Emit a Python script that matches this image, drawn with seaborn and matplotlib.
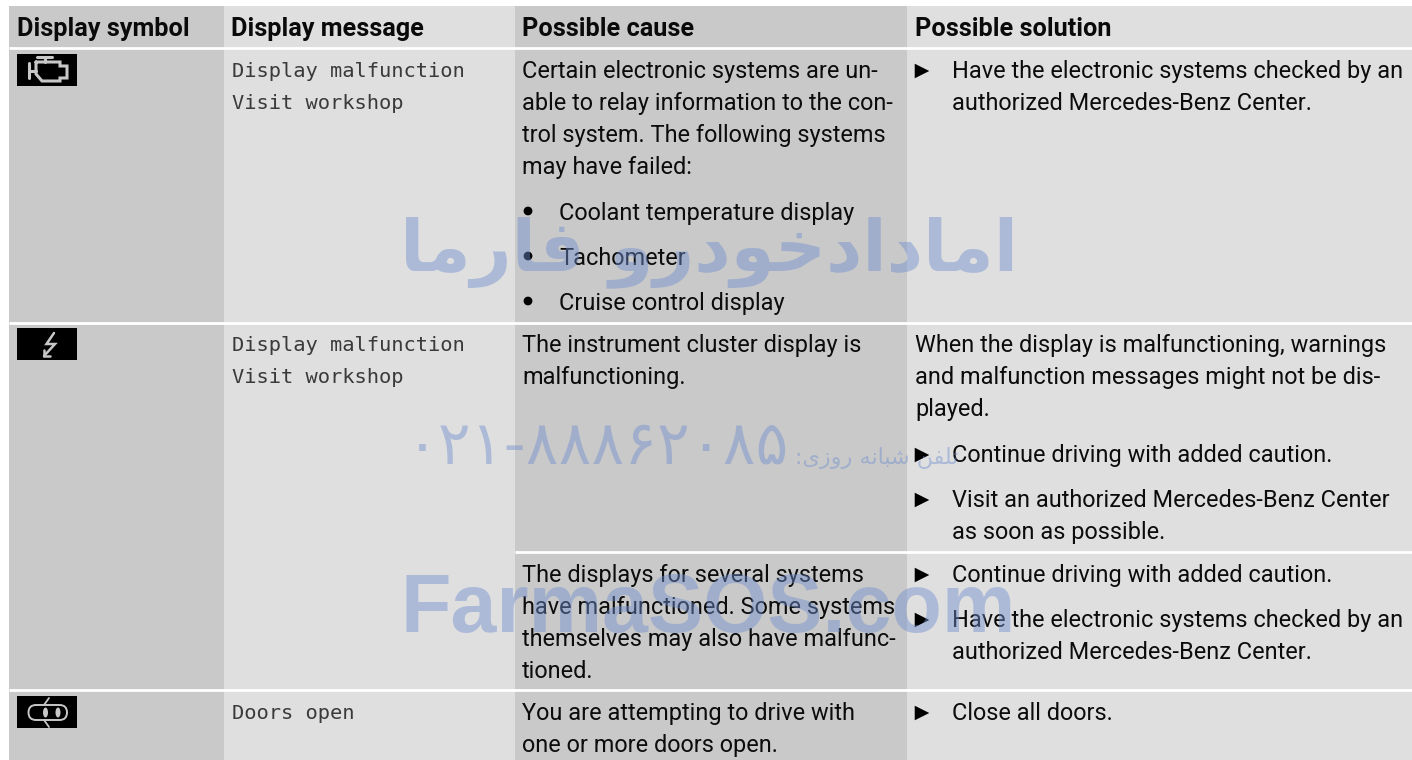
import matplotlib
matplotlib.use("Agg")
import matplotlib.pyplot as plt
from matplotlib.patches import FancyBboxPatch, Rectangle, Ellipse
import pandas as pd
import seaborn as sns

# ---------- content ----------
headers = ["Display symbol", "Display message", "Possible cause", "Possible solution"]
msg_a = ["Display malfunction", "Visit workshop"]
msg_b = ["Doors open"]
cause_a = ["Certain electronic systems are un-", "able to relay information to the con-",
           "trol system. The following systems", "may have failed:"]
cause_a_items = ["Coolant temperature display", "Tachometer", "Cruise control display"]
cause_b = ["The instrument cluster display is", "malfunctioning."]
cause_c = ["The displays for several systems", "have malfunctioned. Some systems",
           "themselves may also have malfunc-", "tioned."]
cause_d = ["You are attempting to drive with", "one or more doors open."]
sol_a = [["Have the electronic systems checked by an", "authorized Mercedes-Benz Center."]]
sol_b_intro = ["When the display is malfunctioning, warnings", "and malfunction messages might not be dis-", "played."]
sol_b = [["Continue driving with added caution."],
         ["Visit an authorized Mercedes-Benz Center", "as soon as possible."]]
sol_c = [["Continue driving with added caution."],
         ["Have the electronic systems checked by an", "authorized Mercedes-Benz Center."]]
sol_d = [["Close all doors."]]
wm_site = "FarmaSOS.com"
wm_phone = "۰۲۱-۸۸۸۶۲۰۸۵"
# Arabic presentation forms in logical order; reversed for left-to-right drawing
wm_name = "\uFE8D\uFEE3\uFE8E\uFEA9\uFE8D\uFEA9\uFEA7\uFEEE\uFEA9\uFEAD\uFEED \uFED3\uFE8E\uFEAD\uFEE3\uFE8E"
wm_tel = "\uFE97\uFEE0\uFED4\uFEE6 \uFEB7\uFE92\uFE8E\uFEE7\uFEEA \uFEAD\uFEED\uFEAF\uFBFC:"

# ---------- style ----------
DARK, LIGHT = "#c9c9c9", "#dfdfdf"
INK = "#0c0c0c"
WM = "#6f8fd0"
sns.set_theme(style="white", rc={"font.family": ["Roboto", "DejaVu Sans"]})
fig = plt.figure(figsize=(14.12, 7.6), dpi=100, facecolor="white")
ax = fig.add_axes([0, 0, 1, 1])
ax.set_xlim(0, 1412)
ax.set_ylim(760, 0)
ax.axis("off")

# column shading and white rules
edges = [9, 224, 515, 907, 1412]
for i in range(4):
    ax.add_patch(Rectangle((edges[i], 6), edges[i + 1] - edges[i], 754,
                           fc=DARK if i % 2 == 0 else LIGHT, ec="none", zorder=1))
for y in (48, 323, 690):
    ax.plot([9, 1412], [y, y], color="white", lw=2.0, zorder=2, solid_capstyle="butt")
ax.plot([515, 1412], [552, 552], color="white", lw=2.0, zorder=2, solid_capstyle="butt")

BODY = 16.9
MONO = 14.7
PITCH = 32

def block(x, y, lines, **kw):
    for i, s in enumerate(lines):
        ax.text(x, y + i * PITCH, s, fontsize=kw.get("size", BODY), color=kw.get("color", INK),
                family=kw.get("family", ["Roboto", "DejaVu Sans"]), va="baseline", ha="left", zorder=3)

for x, h in zip((17, 231, 522, 915), headers):
    ax.text(x, 36, h, fontsize=18.2, fontweight="bold", color="#0a0a0a", va="baseline", zorder=3)

mono = dict(size=MONO, family="DejaVu Sans Mono", color="#3a3a3a")
block(232, 77, msg_a, **mono)
block(232, 351, msg_a, **mono)
block(232, 719, msg_b, **mono)

block(522, 78, cause_a)
for y, s in zip((220, 265, 310), cause_a_items):
    block(559, y, [s])
block(522, 352, cause_b)
block(522, 582, cause_c)
block(522, 720, cause_d)

TX = 952
tri_y, bul_y = [], [211, 256, 301]
for y0, items in ((78, sol_a), (462, [sol_b[0]]), (507, [sol_b[1]]),
                  (582, [sol_c[0]]), (627, [sol_c[1]]), (720, sol_d)):
    for lines in items:
        block(TX, y0, lines)
        tri_y.append(y0 - 7)
block(915, 352, sol_b_intro)

marks = pd.DataFrame({"x": [922] * len(tri_y), "y": tri_y})
sns.scatterplot(data=marks, x="x", y="y", marker=">", s=110, color="black",
                edgecolor="none", ax=ax, zorder=3, legend=False)
bullets = pd.DataFrame({"x": [528] * len(bul_y), "y": bul_y})
sns.scatterplot(data=bullets, x="x", y="y", marker="o", s=40, color="black",
                edgecolor="none", ax=ax, zorder=3, legend=False)
ax.set_xlim(0, 1412)
ax.set_ylim(760, 0)
ax.axis("off")

# display symbols
for top in (54, 328, 696):
    ax.add_patch(Rectangle((17, top), 60, 32, fc="black", ec="none", zorder=3))
G = "#c8c8c8"
def stroke(xs, ys, lw=1.8):
    ax.plot(xs, ys, color=G, lw=lw, zorder=4, solid_joinstyle="miter")
# engine
stroke([37, 52], [57, 57], 2.2)
stroke([44.5, 44.5], [57, 62], 2.2)
stroke([36, 60, 60, 67, 67, 60, 60, 42, 36, 36], [62, 62, 66, 66, 78, 78, 81, 81, 74, 62], 2.2)
stroke([29, 29], [63, 78], 2.2)
stroke([29, 36], [70.5, 70.5], 2.2)
# lightning
stroke([54, 46.5, 55, 44], [333, 344, 344, 356], 1.8)
stroke([44, 44, 50], [350, 356, 356], 1.8)
# doors
ax.add_patch(FancyBboxPatch((28.5, 705), 38.5, 15, boxstyle="round,pad=0,rounding_size=7.5",
                            fc="none", ec=G, lw=1.4, zorder=4))
stroke([44, 49], [705, 698], 1.3)
stroke([44, 49], [720, 727], 1.3)
ax.add_patch(Ellipse((45.5, 712.5), 5, 10, fc=G, ec="none", zorder=4))
ax.add_patch(Ellipse((58, 712.5), 5, 10, fc=G, ec="none", zorder=4))

# watermark (semi-transparent, above the table text)
wm = dict(color=WM, alpha=0.45, zorder=5, va="baseline", ha="left")
ax.text(401, 632, wm_site, fontsize=59.5, fontweight="bold", family="Liberation Sans", **wm)
ax.text(406, 464, wm_phone, fontsize=44, family="DejaVu Sans", **wm)
ax.text(795, 464, wm_tel[::-1], fontsize=16, family="DejaVu Sans", **wm)
ax.text(400, 270, wm_name[::-1], fontsize=51, fontweight="bold", family="DejaVu Sans", **wm)

fig.savefig("out.png", dpi=100, facecolor="white")
